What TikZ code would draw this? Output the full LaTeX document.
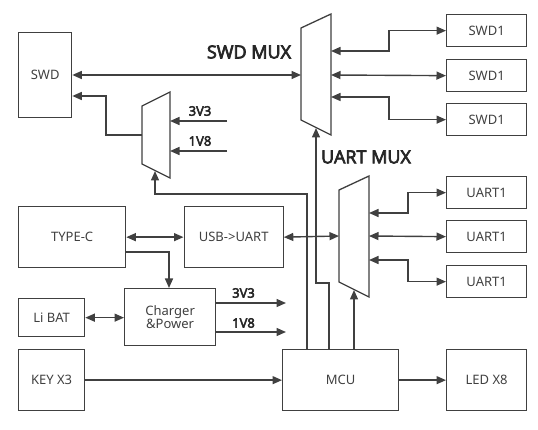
\documentclass[tikz,border=0pt]{standalone}
\usepackage{fontspec}
\setmainfont{Noto Sans}
\newfontfamily\lblfont{Open Sans}[FakeBold=4]
\usetikzlibrary{arrows.meta}
\definecolor{ln}{HTML}{404040}
\definecolor{tx}{HTML}{404040}
\tikzset{
  box/.style={draw=ln,line width=1.3pt,inner sep=0pt,text=tx,font=\fontsize{13}{15}\selectfont,align=center},
  conn/.style={draw=ln,line width=1.4pt,-{Triangle[length=9.5pt,width=8pt]}},
  bconn/.style={draw=ln,line width=1.4pt,{Triangle[length=9.5pt,width=8pt]}-{Triangle[length=9.5pt,width=8pt]}},
  lbl/.style={text=black!85,font=\lblfont\fontsize{18}{20}\selectfont,inner sep=0pt},
  vlbl/.style={text=black!85,font=\lblfont\fontsize{13}{15}\selectfont,inner sep=0pt},
  mux/.style={draw=ln,line width=1.3pt,fill=white}
}
\begin{document}
\begin{tikzpicture}[x=1pt,y=-1pt]
\useasboundingbox (0,0) rectangle (538,430);
% boxes
\node[box,minimum width=53pt,minimum height=85pt,anchor=north west] (swd) at (18,32) {SWD};
\node[box,minimum width=80pt,minimum height=32pt,anchor=north west] (swda) at (446,14) {SWD1};
\node[box,minimum width=80pt,minimum height=32pt,anchor=north west] (swdb) at (446,59) {SWD1};
\node[box,minimum width=80pt,minimum height=32pt,anchor=north west] (swdc) at (446,103) {SWD1};
\node[box,minimum width=80pt,minimum height=32pt,anchor=north west] (uarta) at (446,176) {UART1};
\node[box,minimum width=80pt,minimum height=32pt,anchor=north west] (uartb) at (446,220) {UART1};
\node[box,minimum width=80pt,minimum height=32pt,anchor=north west] (uartc) at (446,265) {UART1};
\node[box,minimum width=107pt,minimum height=61pt,anchor=north west] (typec) at (18,206) {TYPE-C};
\node[box,minimum width=99pt,minimum height=61pt,anchor=north west] (usb) at (183.5,206) {USB->UART};
\node[box,minimum width=91pt,minimum height=57pt,anchor=north west] (chg) at (124,288) {Charger\\[-2pt]\&Power};
\node[box,minimum width=66pt,minimum height=38pt,anchor=north west] (libat) at (18,298) {Li BAT};
\node[box,minimum width=66pt,minimum height=61pt,anchor=north west] (key) at (18,349) {KEY X3};
\node[box,minimum width=116pt,minimum height=61pt,anchor=north west] (mcu) at (282,349) {MCU};
\node[box,minimum width=80pt,minimum height=61pt,anchor=north west] (led) at (446,349) {LED X8};
% muxes
\draw[mux] (301,28) -- (331,14) -- (331,135) -- (301,120) -- cycle;
\draw[mux] (142,106) -- (170,92) -- (170,178) -- (142,164) -- cycle;
\draw[mux] (339,190) -- (369,176) -- (369,297) -- (339,282) -- cycle;
% mux ports
\coordinate (m1in) at (301,75);
\coordinate (m1a) at (331,51);
\coordinate (m1b) at (331,75);
\coordinate (m1c) at (331,97);
\coordinate (m1sel) at (316,128);
\coordinate (vmout) at (142,135);
\coordinate (vmA) at (170,121);
\coordinate (vmB) at (170,151);
\coordinate (vmsel) at (155,171);
\coordinate (v3src) at (227,121);
\coordinate (v1src) at (227,151);
\coordinate (m2in) at (339,236);
\coordinate (m2a) at (369,213);
\coordinate (m2b) at (369,236);
\coordinate (m2c) at (369,260);
\coordinate (m2sel) at (354,290);
\coordinate (c3end) at (286,303);
\coordinate (c1end) at (286,332);
% labels
\node[lbl] (l1) at (249,52) {SWD MUX};
\node[lbl] (l2) at (366,157) {UART MUX};
\node[vlbl] (l3) at (200,111) {3V3};
\node[vlbl] (l4) at (200,141) {1V8};
\node[vlbl] (l5) at (243.5,293) {3V3};
\node[vlbl] (l6) at (243.5,323) {1V8};
% connectors
\draw[bconn] (swd.east |- m1in) -- (m1in);
\draw[bconn] (m1a) -- (389,51) |- (swda.west);
\draw[bconn] (m1b) -- (swdb.west);
\draw[bconn] (m1c) -- (389,97) |- (swdc.west);
\draw[conn] (vmout) -- (106,135) |- (swd.east |- 0,96);
\draw[conn] (v3src) -- (vmA);
\draw[conn] (v1src) -- (vmB);
\draw[conn] (mcu.north -| 307,0) -- (307,194) -| (vmsel);
\draw[conn] (mcu.north -| 329,0) -- (329,283) -| (m1sel);
\draw[conn] (mcu.north -| m2sel) -- (m2sel);
\draw[bconn] (m2a) -- (408,213) |- (uarta.west);
\draw[bconn] (m2b) -- (uartb.west);
\draw[bconn] (m2c) -- (408,260) |- (uartc.west);
\draw[bconn] (typec.east) -- (usb.west);
\draw[bconn] (usb.east) -- (m2in);
\draw[conn] (typec.east |- 0,252) -| (chg.north -| 169,0);
\draw[bconn] (libat.east) -- (chg.west |- libat.east);
\draw[conn] (chg.east |- c3end) -- (c3end);
\draw[conn] (chg.east |- c1end) -- (c1end);
\draw[conn] (key.east) -- (mcu.west);
\draw[conn] (mcu.east) -- (led.west);
\end{tikzpicture}
\end{document}
